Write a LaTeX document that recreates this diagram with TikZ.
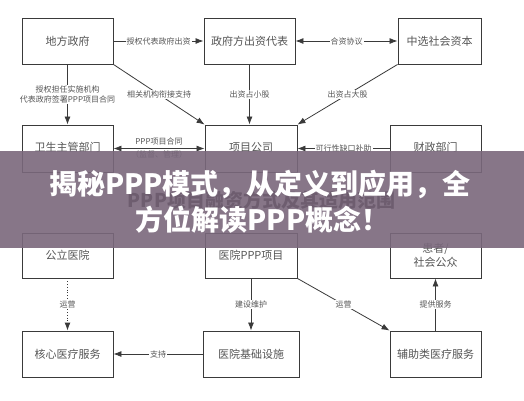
\documentclass[tikz,border=0pt]{standalone}
\usepackage{fontspec}
\setmainfont{Noto Sans CJK SC}
\newfontfamily\cjk{Noto Sans CJK SC}
\usetikzlibrary{arrows.meta}
\definecolor{boxline}{HTML}{3A3A3A}
\definecolor{boxtext}{HTML}{555555}
\definecolor{banner}{RGB}{122,104,124}
\tikzset{
  box/.style={draw=boxline, line width=0.9pt, inner sep=0pt, text=boxtext, font=\cjk\fontsize{11}{14}\selectfont, align=center},
  conn/.style={draw=boxline, line width=0.8pt, -{Latex[length=8pt,width=6pt]}},
  dconn/.style={draw=boxline, line width=0.8pt, {Latex[length=8pt,width=6pt]}-{Latex[length=8pt,width=6pt]}},
  lab/.style={fill=white, inner sep=1pt, text=boxtext, font=\cjk\fontsize{8}{10}\selectfont, align=center},
}
\begin{document}
\begin{tikzpicture}[x=1pt,y=-1pt]
\useasboundingbox (0,0) rectangle (524,400);
\fill[white] (0,0) rectangle (524,400);
% boxes
\node[box, minimum width=91pt, minimum height=46pt] (gov) at (67.5,41) {地方政府};
\node[box, minimum width=91pt, minimum height=46pt] (rep) at (249.5,41) {政府方出资代表};
\node[box, minimum width=83pt, minimum height=46pt] (soc) at (439.5,41) {中选社会资本};
\node[box, minimum width=91pt, minimum height=47pt] (health) at (67.5,148.5) {\raisebox{4pt}{卫生主管部门}};
\node[box, minimum width=92pt, minimum height=47pt] (proj) at (251,148.5) {\raisebox{4pt}{项目公司}};
\node[box, minimum width=91pt, minimum height=47pt] (fin) at (435.5,148.5) {\raisebox{4pt}{财政部门}};
\node[box, minimum width=91pt, minimum height=45pt] (hosp) at (67.5,255.5) {公立医院};
\node[box, minimum width=92pt, minimum height=45pt] (hppp) at (251,255.5) {医院PPP项目};
\node[box, minimum width=91pt, minimum height=45pt] (pat) at (435.5,255.5) {患者/\\社会公众};
\node[box, minimum width=91pt, minimum height=46pt] (core) at (67.5,354) {核心医疗服务};
\node[box, minimum width=96pt, minimum height=46pt] (infra) at (251,354) {医院基础设施};
\node[box, minimum width=91pt, minimum height=46pt] (aux) at (435.5,354) {辅助类医疗服务};
% connectors
\draw[conn] (gov.east) -- node[lab] {授权代表政府出资} (rep.west);
\draw[dconn] (rep.east) -- node[lab] {合资协议} (soc.west);
\draw[conn] (gov.south) -- node[lab] {授权担任实施机构\\代表政府签署PPP项目合同} (health.north);
\draw[conn] (gov.south east) -- node[lab] {相关机构衔接支持} (proj.north west);
\draw[conn] (rep.south) -- node[lab] {出资占小股} (rep.south |- proj.north);
\draw[conn] (soc.south west) -- node[lab] {出资占大股} (proj.north east);
\draw[dconn] (health.east) -- node[lab, fill=none] {PPP项目合同\\[3pt]（监督、管理）} (proj.west);
\draw[conn] (fin.west) -- node[lab] {可行性缺口补助} (proj.east);
\draw[conn, dotted, line width=1pt] (hosp.south) -- node[lab] {运营} (core.north);
\draw[conn] (hppp.south) -- node[lab] {建设维护} (hppp.south |- infra.north);
\draw[conn] (hppp.south east) -- node[lab] {运营} (aux.north west);
\draw[conn] (infra.west) -- node[lab] {支持} (core.east);
\draw[conn] (aux.north) -- node[lab] {提供服务} (pat.south);
% title hidden under banner
\node[font=\cjk\bfseries\fontsize{19}{22}\selectfont, text=black] (title) at (261.5,200) {PPP项目融资方式及其适用范围};
% banner
\fill[banner, opacity=0.9] (0,151) rectangle (524,248);
\node[font=\cjk\bfseries\fontsize{28}{32}\selectfont, text=white] (b1) at (260,184) {揭秘PPP模式，从定义到应用，全};
\node[font=\cjk\bfseries\fontsize{28}{32}\selectfont, text=white] (b2) at (262.5,220) {方位解读PPP概念！};
\end{tikzpicture}
\end{document}
